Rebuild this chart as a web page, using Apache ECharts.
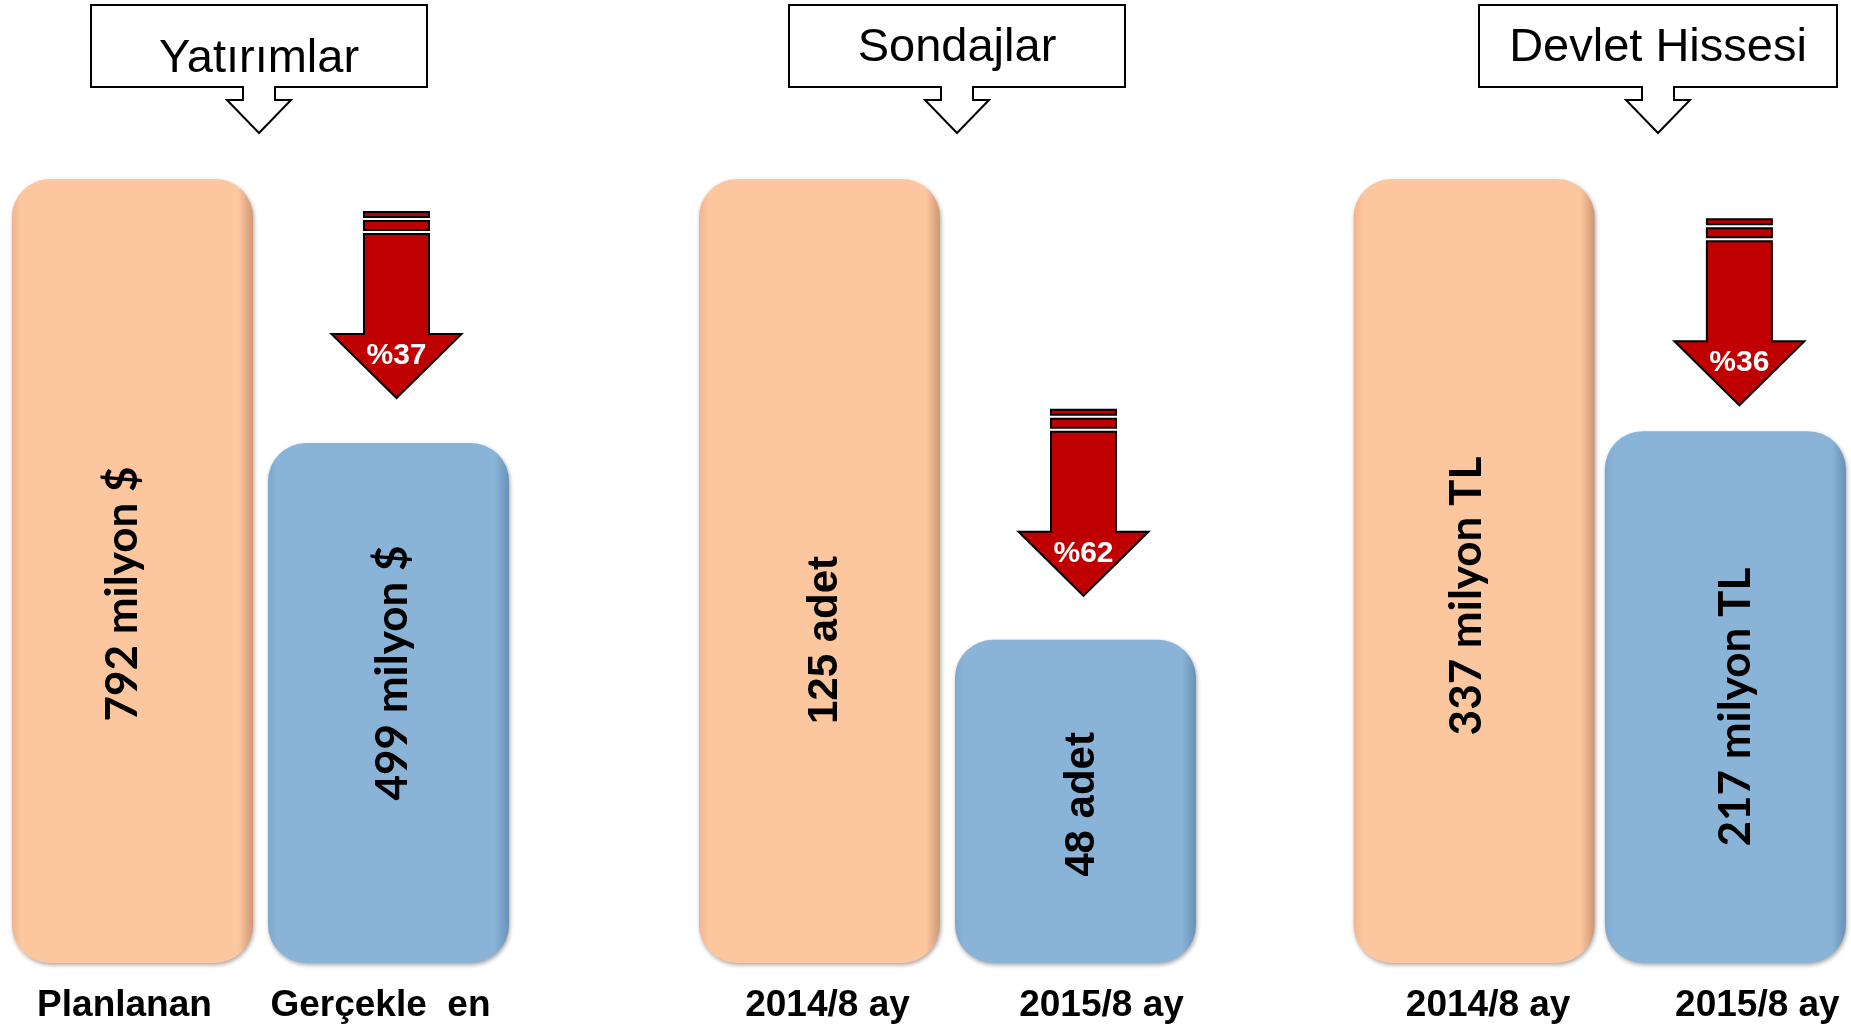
<!DOCTYPE html>
<html>
<head>
<meta charset="utf-8">
<script src="https://cdn.jsdelivr.net/npm/echarts@6/dist/echarts.min.js"></script>
<style>
  html, body { margin: 0; padding: 0; background: #fff; }
  #main { width: 1851px; height: 1030px; }
</style>
</head>
<body>
<div id="main"></div>
<script>
// data
var groupTitles = ['Yatırımlar', 'Sondajlar', 'Devlet Hissesi'];
var yatirimCats = ['Planlanan', 'Gerçekle  en'];
var sondajCats = ['2014/8 ay', '2015/8 ay'];
var devletCats = ['2014/8 ay', '2015/8 ay'];
var yatirimValues = [792, 499];
var sondajValues = [125, 48];
var devletValues = [337, 217];
var units = ['milyon $', 'adet', 'milyon TL'];
var declinePct = [37, 62, 36];

var cats = [yatirimCats, sondajCats, devletCats];
var vals = [yatirimValues, sondajValues, devletValues];

// layout
var gridLeft = [4.5, 691.5, 1348.5];
var axisMin = [-78, -6, -36];
var arrowGap = [45, 44, 26];
var arrowShift = [8, 8, 14];
var labelFont = ['Lato', 'Liberation Sans', 'Lato'];
var labelSize = [44, 42, 44];
// label offsets are in the rotated frame: [-screenDy, screenDx]
var valueLabelOffset = [[[-23, -10], [30, 4]], [[-69, 6], [-3, 7]], [[-25, -7], [-10, 10]]];
var catLabelShift = [[-8, -8], [8, 26], [14, 32]];
var boxes = [[91, 427, 59], [789, 1125, 48], [1479, 1837, 48]]; // x0, x1, text y

var peach = new echarts.graphic.LinearGradient(0, 0, 1, 0, [
    {offset: 0, color: '#F2B48E'},
    {offset: 0.04, color: '#FCC69F'},
    {offset: 0.94, color: '#FCC69F'},
    {offset: 1, color: '#CF9874'}
]);
var blue = new echarts.graphic.LinearGradient(0, 0, 1, 0, [
    {offset: 0, color: '#7EA8CE'},
    {offset: 0.04, color: '#89B4D7'},
    {offset: 0.94, color: '#89B4D7'},
    {offset: 1, color: '#6891B8'}
]);

var chart = echarts.init(document.getElementById('main'));

var grids = [], xAxes = [], yAxes = [], series = [], graphics = [];

for (var i = 0; i < 3; i++) {
    grids.push({left: gridLeft[i], width: 512, top: 179, bottom: 67});

    (function (i) {
        xAxes.push({
            type: 'category', gridIndex: i, data: cats[i],
            axisLine: {show: false}, axisTick: {show: false},
            axisLabel: {
                interval: 0, margin: 24,
                formatter: function (v, idx) { return '{c' + idx + '|' + v + '}'; },
                rich: {
                    c0: shiftStyle(catLabelShift[i][0]),
                    c1: shiftStyle(catLabelShift[i][1])
                }
            }
        });
        yAxes.push({
            type: 'value', gridIndex: i, show: false,
            min: axisMin[i], max: vals[i][0], startValue: axisMin[i],
            splitLine: {show: false}
        });

        series.push({
            type: 'bar', xAxisIndex: i, yAxisIndex: i,
            barWidth: 241,
            data: vals[i].map(function (v, j) {
                return {
                    value: v,
                    itemStyle: {color: j ? blue : peach},
                    label: {offset: valueLabelOffset[i][j]}
                };
            }),
            itemStyle: {
                borderRadius: 38,
                shadowColor: 'rgba(0,0,0,0.35)', shadowBlur: 4,
                shadowOffsetX: 1, shadowOffsetY: 2
            },
            label: {
                show: true, position: 'inside', rotate: 90,
                fontSize: labelSize[i], fontWeight: 'bold',
                fontFamily: labelFont[i], color: '#000',
                formatter: function (p) { return p.value + ' ' + units[i]; }
            },
            silent: true
        });

        // decline arrow above the second bar
        series.push({
            type: 'custom', xAxisIndex: i, yAxisIndex: i,
            data: [[1, vals[i][1], declinePct[i]]],
            silent: true, z: 5,
            renderItem: function (params, api) {
                var p = api.coord([api.value(0), api.value(1)]);
                var cx = p[0] + arrowShift[i], ty = p[1] - arrowGap[i];
                var st = {fill: '#C00000', stroke: '#000', lineWidth: 2};
                return {
                    type: 'group',
                    children: [
                        {type: 'rect', shape: {x: cx - 32.5, y: ty - 186, width: 65, height: 5}, style: st},
                        {type: 'rect', shape: {x: cx - 32.5, y: ty - 177, width: 65, height: 9}, style: st},
                        {type: 'polygon', shape: {points: [
                            [cx - 32.5, ty - 164], [cx + 32.5, ty - 164], [cx + 32.5, ty - 64],
                            [cx + 65, ty - 64], [cx, ty], [cx - 65, ty - 64], [cx - 32.5, ty - 64]
                        ]}, style: st},
                        {type: 'text', style: {
                            text: '%' + api.value(2), x: cx, y: ty - 42,
                            align: 'center', verticalAlign: 'middle',
                            fill: '#fff', fontSize: 30, fontWeight: 'bold',
                            fontFamily: 'Liberation Sans'
                        }}
                    ]
                };
            }
        });
    })(i);

    // title callout box
    var b = boxes[i], cx = (b[0] + b[1]) / 2, y0 = 5, y1 = 87;
    graphics.push({
        type: 'polygon', z: 10,
        shape: {points: [
            [b[0], y0], [b[1], y0], [b[1], y1], [cx + 16, y1], [cx + 16, y1 + 13],
            [cx + 32, y1 + 13], [cx, 133], [cx - 32, y1 + 13], [cx - 16, y1 + 13],
            [cx - 16, y1], [b[0], y1]
        ]},
        style: {fill: '#fff', stroke: '#000', lineWidth: 2}
    });
    graphics.push({
        type: 'text', z: 11,
        style: {
            text: groupTitles[i], x: cx, y: b[2],
            align: 'center', verticalAlign: 'middle',
            fontSize: 47, fontFamily: 'Liberation Sans', fill: '#000'
        }
    });
}

function shiftStyle(s) {
    return {
        fontSize: 37, fontWeight: 'bold', fontFamily: 'Liberation Sans', color: '#000',
        padding: s > 0 ? [0, 0, 0, 2 * s] : [0, -2 * s, 0, 0]
    };
}

var option = {
    animation: false,
    backgroundColor: '#fff',
    grid: grids,
    xAxis: xAxes,
    yAxis: yAxes,
    series: series,
    graphic: graphics
};

chart.setOption(option);
</script>
</body>
</html>
